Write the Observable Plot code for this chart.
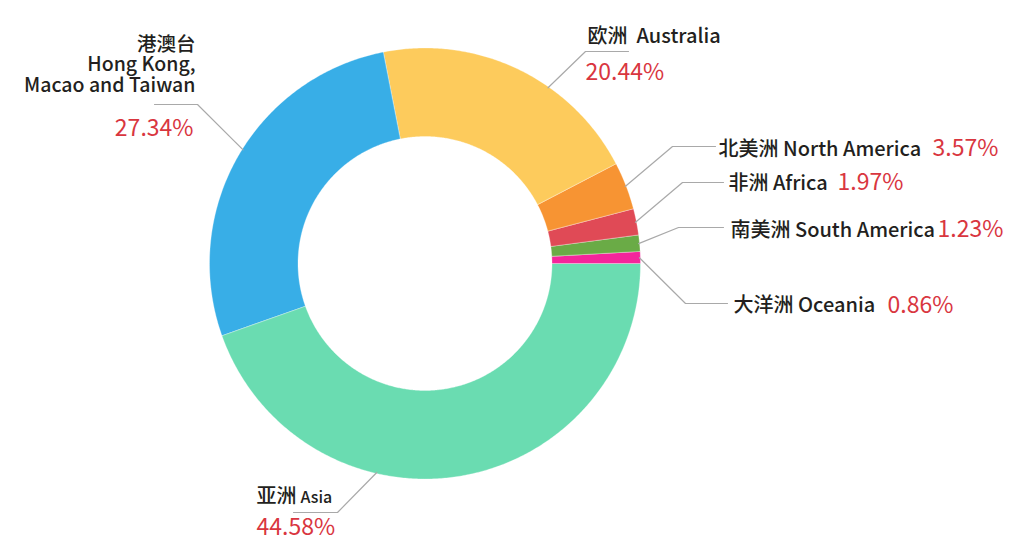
<!DOCTYPE html>
<html>
<head>
<meta charset="utf-8">
<script src="https://cdn.jsdelivr.net/npm/d3@7"></script>
<script src="https://cdn.jsdelivr.net/npm/@observablehq/plot@0.6"></script>
<style>
  html, body { margin: 0; padding: 0; background: #fff; }
  #chart svg { display: block; }
</style>
</head>
<body>
<div id="chart"></div>
<script>
// ---- data ----
const regions = ["亚洲 Asia", "港澳台 Hong Kong, Macao and Taiwan", "欧洲 Australia", "北美洲 North America", "非洲 Africa", "南美洲 South America", "大洋洲 Oceania"];
const shares = [44.58, 27.34, 20.44, 3.57, 1.97, 1.23, 0.86];
const shareLabels = ["44.58%", "27.34%", "20.44%", "3.57%", "1.97%", "1.23%", "0.86%"];
const nameLabels = ["亚洲", "港澳台\nHong Kong,\nMacao and Taiwan", "欧洲\u00a0\u00a0Australia", "北美洲 North America", "非洲 Africa", "南美洲 South America", "大洋洲 Oceania"];
const sliceColors = ["#6adcb1", "#38aee7", "#fdcb5c", "#f79433", "#e04a56", "#6aab46", "#f4259b"];

// ---- layout (pixels in the 1027x539 frame) ----
const W = 1027, H = 539;
const cx = 424.5, cy = 263, rOuter = 215.5, rInner = 127;
const startAngle = 90; // compass degrees, clockwise
const leaders = [
  {ang: 193, elbow: [337, 512], end: [293, 512]},
  {ang: 302, elbow: [197, 104], end: [154, 104]},
  {ang: 35,  elbow: [585, 51],  end: [628, 51]},
  {ang: null, elbow: [672, 146], end: [715, 146]},
  {ang: null, elbow: [682, 182], end: [723, 182]},
  {ang: null, elbow: [678, 227], end: [723, 227]},
  {ang: null, elbow: [685, 303], end: [727, 303]}
];
const nameAnchor = [
  {x: 256, y: 502, a: "start"},
  {x: 195, y: 91,  a: "end"},
  {x: 587, y: 42,  a: "start"},
  {x: 718, y: 155, a: "start"},
  {x: 728, y: 189, a: "start"},
  {x: 730, y: 236, a: "start"},
  {x: 733, y: 311, a: "start"}
];
const pctAnchor = [
  {x: 256, y: 534, a: "start"},
  {x: 193, y: 135, a: "end"},
  {x: 585, y: 79,  a: "start"},
  {x: 932, y: 155, a: "start"},
  {x: 837, y: 189, a: "start"},
  {x: 937, y: 236, a: "start"},
  {x: 887, y: 312, a: "start"}
];

const ux = px => px - cx;
const uy = py => cy - py;
const rad = d => d * Math.PI / 180;

// build slice polygons from shares
const total = d3.sum(shares);
let acc = startAngle;
const slices = shares.map((v, i) => {
  const a0 = acc, a1 = acc + v / total * 360;
  acc = a1;
  return {name: regions[i], a0, a1, mid: (a0 + a1) / 2};
});
const ringPts = [];
for (const s of slices) {
  const n = Math.max(4, Math.ceil((s.a1 - s.a0) * 2));
  for (let k = 0; k <= n; k++) {
    const a = rad(s.a0 + (s.a1 - s.a0) * k / n);
    ringPts.push({name: s.name, x: rOuter * Math.sin(a), y: rOuter * Math.cos(a)});
  }
  for (let k = n; k >= 0; k--) {
    const a = rad(s.a0 + (s.a1 - s.a0) * k / n);
    ringPts.push({name: s.name, x: rInner * Math.sin(a), y: rInner * Math.cos(a)});
  }
}

const leaderPts = [];
slices.forEach((s, i) => {
  const L = leaders[i];
  const a = rad(L.ang == null ? s.mid : L.ang);
  const r = rOuter - 1;
  leaderPts.push({id: i, x: r * Math.sin(a), y: r * Math.cos(a)});
  leaderPts.push({id: i, x: ux(L.elbow[0]), y: uy(L.elbow[1])});
  leaderPts.push({id: i, x: ux(L.end[0]), y: uy(L.end[1])});
});

const nameData = nameLabels.map((t, i) => ({t, x: ux(nameAnchor[i].x), y: uy(nameAnchor[i].y), a: nameAnchor[i].a}));
const pctData = shareLabels.map((t, i) => ({t, x: ux(pctAnchor[i].x), y: uy(pctAnchor[i].y), a: pctAnchor[i].a}));

const font = "'Noto Sans CJK SC', 'Noto Sans', sans-serif";

const chart = Plot.plot({
  width: W, height: H, margin: 0,
  x: {domain: [ux(0), ux(W)], axis: null},
  y: {domain: [uy(H), uy(0)], axis: null},
  color: {domain: regions, range: sliceColors},
  style: {fontFamily: font, background: "#fff"},
  marks: [
    Plot.line(ringPts, {x: "x", y: "y", z: "name", fill: "name", stroke: "#ffffff", strokeWidth: 0.5, strokeOpacity: 0.6, curve: "linear-closed"}),
    Plot.line(leaderPts, {x: "x", y: "y", z: "id", stroke: "#a9a9a9", strokeWidth: 1.2}),
    Plot.text(nameData.filter(d => d.a === "start"), {x: "x", y: "y", text: "t", textAnchor: "start", lineAnchor: "bottom", fontSize: 20, fontWeight: 500, fill: "#231f20"}),
    Plot.text(nameData.filter(d => d.a === "end"), {x: "x", y: "y", text: "t", textAnchor: "end", lineAnchor: "bottom", lineHeight: 1.05, fontSize: 19.5, fontWeight: 500, fill: "#231f20"}),
    Plot.text([{t: "Asia", x: ux(256 + 44), y: uy(502)}], {x: "x", y: "y", text: "t", textAnchor: "start", lineAnchor: "bottom", fontSize: 16, fontWeight: 500, fill: "#231f20"}),
    Plot.text(pctData.filter(d => d.a === "start"), {x: "x", y: "y", text: "t", textAnchor: "start", lineAnchor: "bottom", fontSize: 23, fill: "#d9363f"}),
    Plot.text(pctData.filter(d => d.a === "end"), {x: "x", y: "y", text: "t", textAnchor: "end", lineAnchor: "bottom", fontSize: 23, fill: "#d9363f"})
  ]
});
document.getElementById("chart").appendChild(chart);
</script>
</body>
</html>
